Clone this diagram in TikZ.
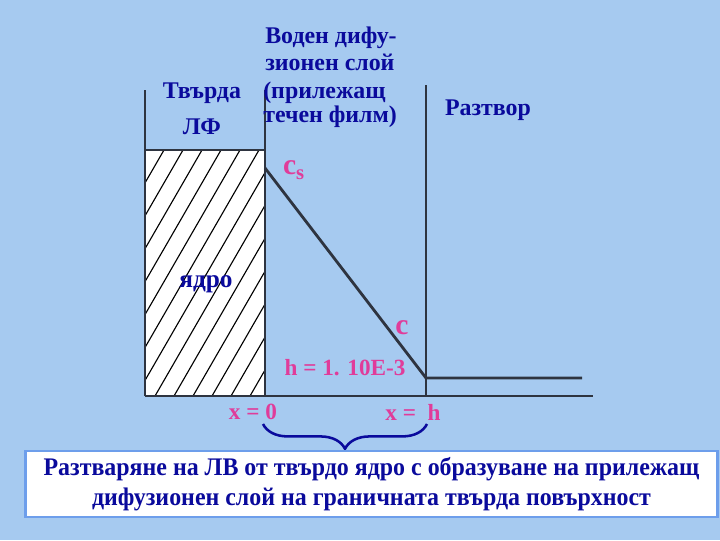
\documentclass[tikz,border=0pt]{standalone}
\usepackage{fontspec}
\setmainfont{Liberation Serif}
\usetikzlibrary{decorations.pathreplacing}
\definecolor{bg}{HTML}{A6CAF0}
\definecolor{wall}{HTML}{2E3440}
\definecolor{navy}{HTML}{0A0A9C}
\definecolor{rose}{HTML}{E03C9A}
\definecolor{frame}{HTML}{6D9EEB}
\begin{document}
\begin{tikzpicture}[x=0.025cm, y=-0.025cm]
        \tikzstyle{wall}=[draw=wall, line width=2pt]
        \tikzstyle{lbl}=[text=navy, font=\fontsize{17}{20}\selectfont\bfseries, inner sep=0pt]
        \tikzstyle{val}=[text=rose, font=\fontsize{16.5}{19}\selectfont\bfseries, inner sep=0pt]
            \fill[bg] (0,0) rectangle (720,540);
            % solid core with hatching
            \fill[white] (145,150) rectangle (265,396);
            \begin{scope}
                \clip (145,150) rectangle (265,396);
                \foreach \i in {0,...,14}
                    \draw[line width=0.8pt] (3+\i*19,396) -- ++(142,-246);
            \end{scope}
            \coordinate (ltop) at (145,90);
            \coordinate (lbot) at (145,396);
            \coordinate (mtop) at (265,90);
            \coordinate (mbot) at (265,396);
            \coordinate (cs) at (265,168);
            \coordinate (rtop) at (426,85);
            \coordinate (rbot) at (426,396);
            \coordinate (cb) at (426,378);
            \coordinate (cend) at (582,378);
            \coordinate (bend) at (593,396);
            \draw[wall] (ltop) -- (lbot);
            \draw[wall] (mtop) -- (mbot);
            \draw[wall] (145,150) -- (265,150);
            \draw[wall] (rtop) -- (rbot);
            \draw[wall] (lbot) -- (bend);
            \draw[wall] (cs) -- (cb) -- (cend);
            % labels
            \node[lbl, anchor=west] (film1) at (265,38) {Воден дифу-};
            \node[lbl, anchor=west] (film2) at (265,62) {зионен слой};
            \node[lbl, anchor=west] (film3) at (263,93) {(прилежащ};
            \node[lbl, anchor=west] (film4) at (263,117) {течен филм)};
            \node[lbl] (solid1) at (202,93) {Твърда};
            \node[lbl] (solid2) at (202,127) {ЛФ};
            \node[lbl] (sol) at (488,110) {Разтвор};
            \node[lbl, font=\fontsize{18}{20}\selectfont\bfseries] (core) at (206,284) {ядро};
            \node[val, font=\fontsize{21}{24}\selectfont\bfseries] (csl) at (294,170) {c\textsubscript{s}};
            \node[val, font=\fontsize{21}{24}\selectfont\bfseries] (cl) at (402,328) {c};
            \node[val] (hl) at (345,368) {h = 1. 10E-3};
            \node[val] (x0) at (253,412) {x = 0};
            \node[val] (xh) at (413,412) {x =\ \ h};
            \draw[navy, line width=1.8pt, decorate,
                decoration={brace, mirror, amplitude=0.62cm}] (263,424) -- (427,424);
            \node[draw=frame, line width=2pt, fill=white, minimum width=17.3cm,
                minimum height=1.65cm, text=navy, align=center,
                font=\fontsize{18}{21.5}\selectfont\bfseries] (note) at (371.5,484)
                {\scalebox{0.945}[1]{Разтваряне на ЛВ от твърдо ядро с образуване на прилежащ}\\
                 \scalebox{0.945}[1]{дифузионен слой на граничната твърда повърхност}};
\end{tikzpicture}
\end{document}
